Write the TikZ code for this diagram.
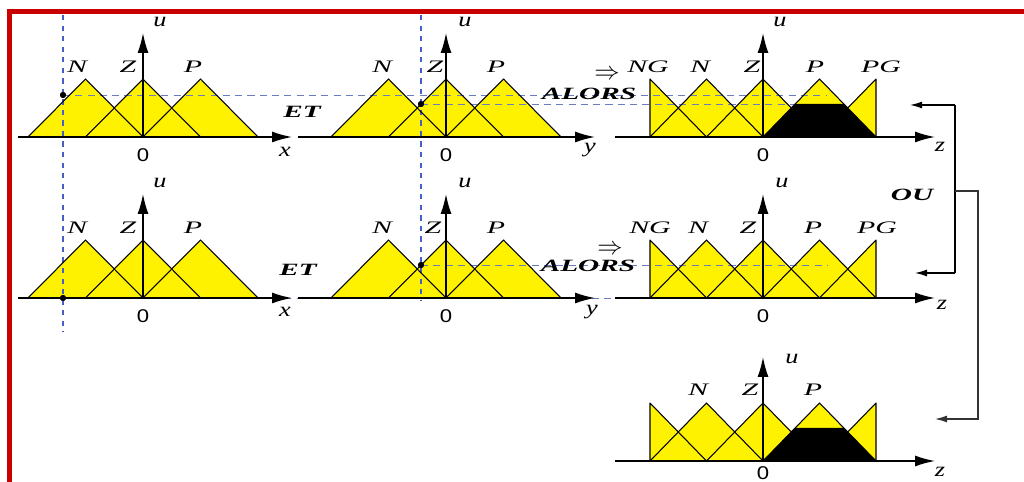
\documentclass[tikz,border=0pt]{standalone}
\usepackage{fontspec}
\setmainfont{Liberation Serif}
\newfontfamily\digitfont{Liberation Sans}
\usetikzlibrary{arrows.meta,calc}
\definecolor{framered}{RGB}{200,0,0}
\definecolor{guideblue}{RGB}{70,95,200}
\definecolor{levelblue}{RGB}{105,125,190}
\newcommand\wtxt[2][1.7]{\scalebox{#1}[1]{#2}}

\begin{document}
\begin{tikzpicture}[x=0.02cm,y=-0.02cm,>={Latex[length=0.4cm,width=0.22cm]}]
  \tikzstyle{tri}=[fill=yellow]
  \tikzstyle{edge}=[draw,line width=0.6pt,line join=round]
  \tikzstyle{axe}=[line width=0.9pt,->]
  \tikzstyle{lbl}=[font=\itshape\fontsize{10}{10}\selectfont,inner sep=0pt]
  \tikzstyle{var}=[font=\itshape\fontsize{11.5}{11.5}\selectfont,inner sep=0pt]
  \tikzstyle{mot}=[font=\bfseries\itshape\fontsize{9.8}{9.8}\selectfont,inner sep=0pt]
  \tikzstyle{zero}=[font=\digitfont\fontsize{10.5}{10.5}\selectfont,inner sep=0pt]
  \tikzstyle{guide}=[draw=guideblue,dashed,line width=0.6pt]
  \tikzstyle{level}=[draw=levelblue,dash pattern=on 4pt off 3pt,line width=0.5pt]
  \tikzstyle{dot}=[circle,fill=black,inner sep=0pt,minimum size=0.12cm]
  \tikzstyle{link}=[line width=0.7pt,-{Latex[length=0.24cm,width=0.14cm]}]
  \useasboundingbox (0,0) rectangle (1024,482);
  \draw[framered,line width=0.1cm] (9.5,530) -- (9.5,12) -- (1070,12);

  % yellow sets
  \foreach \ox/\oy in {143/137,446/137,143/298,446/298}
    \foreach \c in {-57.5,0,57.5}
      \fill[tri] (\ox+\c-57.5,\oy) -- (\ox+\c,\oy-58) -- (\ox+\c+57.5,\oy) -- cycle;
  \foreach \oy in {137,298,461}
    \fill[tri] (650,\oy) -- (650,\oy-58) -- (678.25,\oy-29) -- (706.5,\oy-58) -- (734.75,\oy-29)
      -- (763,\oy-58) -- (791.25,\oy-29) -- (819.5,\oy-58) -- (847.75,\oy-29) -- (876,\oy-58) -- (876,\oy) -- cycle;

  % dots and levels
  \node[dot] (dA1) at (63,95) {};
  \node[dot] (dB1) at (421,104) {};
  \node[dot] (dA2) at (63,298) {};
  \node[dot] (dB2) at (421,265) {};
  \coordinate (eA1) at (827,95);
  \coordinate (eB1) at (827,104);
  \coordinate (eA2) at (650,298);
  \coordinate (eB2) at (827,265);
  \draw[guide] (63,15) -- (63,332);
  \draw[guide] (421,15) -- (421,300);
  \draw[level] (dA1.center) -- (eA1);
  \draw[level] (dB1.center) -- (eB1);
  \draw[level] (dA2.center) -- (eA2);
  \draw[level] (dB2.center) -- (eB2);

  % outlines
  \foreach \ox/\oy in {143/137,446/137,143/298,446/298}
    \foreach \c in {-57.5,0,57.5}
      \draw[edge] (\ox+\c-57.5,\oy) -- (\ox+\c,\oy-58) -- (\ox+\c+57.5,\oy);
  \foreach \oy in {137,298,461}{
    \draw[edge] (650,\oy) -- (650,\oy-58) -- (706.5,\oy);
    \foreach \c in {706.5,763,819.5}
      \draw[edge] (\c-56.5,\oy) -- (\c,\oy-58) -- (\c+56.5,\oy);
    \draw[edge] (819.5,\oy) -- (876,\oy-58) -- (876,\oy);
  }
  % clipped result
  \foreach \oy in {137,461}
    \fill (763,\oy) -- (795.1,\oy-33) -- (843.9,\oy-33) -- (876,\oy) -- cycle;

  % axes
  \foreach \ox/\oy/\a/\b in {143/137/18/292,446/137/298/595,143/298/18/292,446/298/298/595,
      763/137/615/935,763/298/615/935,763/461/615/935}{
    \draw[axe] (\a,\oy) -- (\b,\oy);
    \draw[axe] (\ox,\oy) -- (\ox,\oy-104);
  }
  \node[dot] at (dA1) {};
  \node[dot] at (dB1) {};
  \node[dot] at (dA2) {};
  \node[dot] at (dB2) {};

  % labels
  \foreach \n/\t/\px/\py in {xN1/N/77/67,xZ1/Z/128/67,xP1/P/193/67,yN1/N/382/67,yZ1/Z/435/67,yP1/P/496/67,
      zNG1/NG/648/67,zN1/N/700/67,zZ1/Z/752/67,zP1/P/815/67,zPG1/PG/881/67,
      xN2/N/77/228,xZ2/Z/128/228,xP2/P/193/228,yN2/N/382/228,yZ2/Z/433/228,yP2/P/496/228,
      zNG2/NG/650/228,zN2/N/698/228,zZ2/Z/748/228,zP2/P/813/228,zPG2/PG/877/228,
      zN3/N/698/390,zZ3/Z/750/390,zP3/P/813/390}
    \node[lbl] (\n) at (\px,\py) {\wtxt{\t}};
  \foreach \n/\px/\py in {uA1/160/22,uB1/465/22,uC1/780/22,uA2/160/183,uB2/465/183,uC2/782/183,uC3/792/359}
    \node[var] (\n) at (\px,\py) {\wtxt[1.3]{u}};
  \foreach \n/\px/\py in {oA1/143/155,oB1/446/155,oC1/763/155,oA2/143/316,oB2/446/316,oC2/763/316,oC3/763/473}
    \node[zero] (\n) at (\px,\py) {\wtxt[1.2]{0}};
  \foreach \n/\t/\px/\py in {vx1/x/285/152,vy1/y/590/150,vz1/z/940/147,vx2/x/285/312,vy2/y/592/312,vz2/z/942/305,vz3/z/940/472}
    \node[var] (\n) at (\px,\py) {\wtxt[1.3]{\t}};
  \node[mot] (et1) at (302,112) {\wtxt{ET}};
  \node[mot] (et2) at (298,270) {\wtxt{ET}};
  \node[mot] (alors1) at (589,94) {\wtxt{ALORS}};
  \node[mot] (alors2) at (588,266) {\wtxt{ALORS}};
  \node[font=\fontsize{14}{14}\selectfont,inner sep=0pt] (imp1) at (607,75) {$\Rightarrow$};
  \node[font=\fontsize{14}{14}\selectfont,inner sep=0pt] (imp2) at (610,250) {$\Rightarrow$};
  \node[mot] (ou) at (912,195) {\wtxt{OU}};

  % aggregation
  \coordinate (tapA) at (955,105);
  \coordinate (tapB) at (955,273);
  \coordinate (tapOU) at (955,191);
  \coordinate (drop) at (978,419);
  \coordinate (in1) at (910,105);
  \coordinate (in2) at (915,273);
  \coordinate (in3) at (935,419);
  \draw[link] (tapA) -- (in1);
  \draw[line width=0.7pt] (tapA) -- (tapB);
  \draw[link] (tapB) -- (in2);
  \draw[link,black!80] (tapOU) -| (drop) -- (in3);
\end{tikzpicture}
\end{document}
